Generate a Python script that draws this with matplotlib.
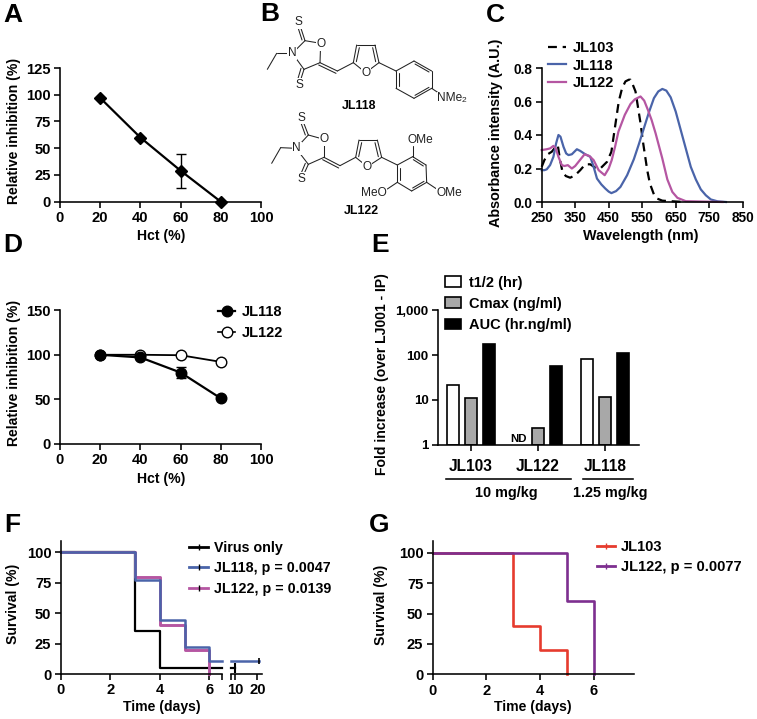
import numpy as np
import matplotlib
matplotlib.use('Agg')
import matplotlib.pyplot as plt
from matplotlib.lines import Line2D
from matplotlib.patches import Patch

plt.rcParams['font.family'] = ['Liberation Sans', 'DejaVu Sans']
plt.rcParams['font.weight'] = 'bold'
plt.rcParams['axes.labelweight'] = 'bold'
plt.rcParams['axes.linewidth'] = 1.15

W, H = 757, 719

# panel A
hct = [20, 40, 60, 80]
a_inhibition = [97, 60, 29, 0]
a_err = [0, 0, 16, 0]

# panel C
wl_118 = [250, 258, 265, 275, 285, 293, 300, 306, 315, 323, 330, 340, 355, 365, 380, 395, 405, 415, 428, 440, 450, 458, 472, 485, 505, 525, 540, 555, 570, 585, 598, 610, 622, 635, 650, 665, 680, 695, 710, 725, 740, 755, 775, 800]
abs_118 = [0.19, 0.19, 0.195, 0.22, 0.27, 0.35, 0.40, 0.39, 0.33, 0.29, 0.28, 0.285, 0.315, 0.305, 0.285, 0.27, 0.21, 0.14, 0.105, 0.08, 0.062, 0.053, 0.065, 0.09, 0.16, 0.255, 0.345, 0.44, 0.535, 0.62, 0.66, 0.675, 0.665, 0.625, 0.54, 0.43, 0.32, 0.21, 0.135, 0.075, 0.04, 0.015, 0.004, 0.0]
wl_122 = [250, 265, 275, 285, 292, 300, 310, 318, 328, 340, 350, 362, 378, 392, 405, 420, 438, 450, 459, 469, 479, 498, 515, 528, 545, 556, 567, 578, 590, 610, 625, 640, 655, 680, 720, 790]
abs_122 = [0.31, 0.315, 0.32, 0.335, 0.32, 0.27, 0.22, 0.215, 0.22, 0.2, 0.215, 0.245, 0.285, 0.275, 0.25, 0.19, 0.16, 0.2, 0.25, 0.33, 0.42, 0.52, 0.585, 0.613, 0.63, 0.605, 0.55, 0.49, 0.41, 0.26, 0.135, 0.06, 0.025, 0.005, 0.003, 0.0]
wl_103 = [250, 258, 268, 280, 290, 298, 304, 312, 322, 335, 350, 365, 380, 395, 410, 425, 445, 458, 469, 480, 490, 500, 510, 515, 522, 530, 545, 553, 565, 573, 585, 595, 610, 650, 680]
abs_103 = [0.21, 0.25, 0.285, 0.3, 0.325, 0.34, 0.26, 0.18, 0.155, 0.145, 0.16, 0.19, 0.225, 0.225, 0.205, 0.2, 0.24, 0.30, 0.45, 0.60, 0.68, 0.72, 0.73, 0.73, 0.70, 0.66, 0.47, 0.35, 0.19, 0.11, 0.045, 0.02, 0.008, 0.003, 0.0]

# panel D
d_118 = [100, 97, 80, 51]
d_118_err = [0, 2, 6, 0]
d_122 = [100, 100, 99.5, 92]

# panel E
e_groups = ['JL103', 'JL122', 'JL118']
e_series = ['t1/2 (hr)', 'Cmax (ng/ml)', 'AUC (hr.ng/ml)']
e_t12 = np.array([21, np.nan, 82])
e_cmax = np.array([11, 2.4, 11.5])
e_auc = np.array([180, 56, 110])

# panel F
f_labels = ['Virus only', 'JL118, p = 0.0047', 'JL122, p = 0.0139']
f_days_virus = [0, 3, 4, 6.5, np.nan, 8.2, 10]
f_virus = [100, 35, 5, 5, np.nan, 5, 5]
f_days_118 = [0, 3, 4, 5, 6, 6.5, np.nan, 8.2, 21]
f_118 = [100, 77.5, 44.5, 22, 11, 11, np.nan, 11, 11]
f_days_122 = [0, 3, 4, 5, 6]
f_122 = [100, 80, 40, 20, 0]

# panel G
g_labels = ['JL103', 'JL122, p = 0.0077']
g_days_103 = [0, 3, 4, 5]
g_103 = [100, 40, 20, 0]
g_days_122 = [0, 5, 6]
g_122 = [100, 60, 0]

BLUE = '#4a64a9'
MAGENTA = '#b556a2'
RED = '#e63b2e'
PURPLE = '#7d2f8f'
GREY = '#a8a8a8'
TICK_FS = 10.6


def axes_px(left, right, top, bottom):
    return fig.add_axes([left / W, 1 - bottom / H, (right - left) / W, (bottom - top) / H])


def style(ax, xlabel, ylabel, xpos, ypos, fs=TICK_FS, label_fs=10.1):
    ax.spines['top'].set_visible(False)
    ax.spines['right'].set_visible(False)
    ax.tick_params(length=4.3, width=1.15, labelsize=fs, pad=2.5)
    ax.set_xlabel(xlabel, fontsize=label_fs, va='center')
    ax.set_ylabel(ylabel, fontsize=label_fs, va='center')
    ax.xaxis.set_label_coords(xpos[0], xpos[1], transform=bg.transData)
    ax.yaxis.set_label_coords(ypos[0], ypos[1], transform=bg.transData)
    ax.patch.set_alpha(0)


def legend_px(ax, handles, labels, left, top, handle_px, gap_px, row_gap_px, fs=10.5):
    em = fs * 100 / 72
    return ax.legend(handles, labels, loc='upper left', bbox_to_anchor=(left / W, 1 - top / H),
                     bbox_transform=fig.transFigure, frameon=False, fontsize=fs, borderpad=0,
                     borderaxespad=0, handlelength=handle_px / em, handletextpad=gap_px / em,
                     labelspacing=row_gap_px / em, handleheight=0.7)


fig = plt.figure(figsize=(W / 100, H / 100), dpi=100)

bg = fig.add_axes([0, 0, 1, 1])
bg.set_xlim(0, W)
bg.set_ylim(H, 0)
bg.axis('off')

for letter, lx, ly in [('A', 13, 15), ('B', 270, 14), ('C', 495, 15), ('D', 13, 245),
                       ('E', 380, 245), ('F', 12, 525), ('G', 379, 525)]:
    bg.text(lx, ly, letter, fontsize=19, ha='center', va='center')


# panel B, structures (crop coordinates, 3x)
def draw_structure(ox, oy, bonds, atoms):
    conv = lambda p: (ox + p[0] / 3, oy + p[1] / 3)
    for a, b in bonds:
        pa, pb = conv(a), conv(b)
        bg.plot([pa[0], pb[0]], [pa[1], pb[1]], color='#222222', lw=0.75, zorder=2,
                solid_capstyle='round')
    for txt, x, y in atoms:
        px, py = conv((x, y))
        bg.text(px, py, txt, fontsize=8.6, fontweight='normal', ha='center', va='center', zorder=3,
                color='#222222', bbox=dict(fc='white', ec='none', pad=0.4))


ring_118 = [(97, 130), (135, 92), (182, 100), (180, 158), (132, 178)]
bonds_118 = [((22, 178), (50, 130)), ((50, 130), (97, 130)),
             (ring_118[0], ring_118[1]), (ring_118[1], ring_118[2]), (ring_118[2], ring_118[3]),
             (ring_118[3], ring_118[4]), (ring_118[4], ring_118[0]),
             ((135, 92), (117, 37)), ((132, 178), (117, 225)),
             ((180, 158), (232, 183)), ((232, 183), (280, 158)),
             ((280, 158), (290, 105)), ((290, 105), (345, 105)), ((345, 105), (357, 158)),
             ((357, 158), (317, 188)), ((317, 188), (280, 158)), ((357, 158), (408, 183)),
             ((408, 183), (462, 153)), ((462, 153), (515, 183)), ((515, 183), (515, 235)),
             ((515, 235), (462, 265)), ((462, 265), (408, 235)), ((408, 235), (408, 183)),
             ((515, 235), (545, 255)),
             ((126, 90), (110, 40)), ((123, 175), (109, 222)), ((176, 165), (228, 190)),
             ((289, 155), (298, 113)), ((338, 113), (347, 155)),
             ((416, 190), (416, 228)), ((465, 162), (507, 186)), ((465, 256), (507, 232))]
atoms_118 = [('S', 115, 37), ('S', 117, 225), ('N', 97, 130), ('O', 183, 102), ('O', 317, 188)]
draw_structure(260, 10, bonds_118, atoms_118)
bg.text(449.5, 98, 'NMe', fontsize=8.6, fontweight='normal', ha='center', va='center', color='#222222',
        bbox=dict(fc='white', ec='none', pad=0.3), zorder=3)
bg.text(464, 100.5, '2', fontsize=6, fontweight='normal', ha='center', va='center', color='#222222')
bg.text(359, 106, 'JL118', fontsize=8.9, ha='center', va='center')

ring_122 = [(108, 130), (145, 90), (192, 103), (192, 157), (145, 178)]
bonds_122 = [((35, 175), (62, 128)), ((62, 128), (108, 130)),
             (ring_122[0], ring_122[1]), (ring_122[1], ring_122[2]), (ring_122[2], ring_122[3]),
             (ring_122[3], ring_122[4]), (ring_122[4], ring_122[0]),
             ((145, 90), (125, 38)), ((145, 178), (125, 222)),
             ((192, 157), (240, 182)), ((240, 182), (287, 157)),
             ((287, 157), (297, 105)), ((297, 105), (352, 105)), ((352, 105), (365, 157)),
             ((365, 157), (322, 185)), ((322, 185), (287, 157)), ((365, 157), (412, 180)),
             ((412, 180), (458, 155)), ((458, 155), (498, 180)), ((498, 180), (500, 232)),
             ((500, 232), (455, 258)), ((455, 258), (412, 232)), ((412, 232), (412, 180)),
             ((458, 155), (458, 122)), ((412, 232), (382, 252)), ((500, 232), (530, 252)),
             ((136, 90), (118, 40)), ((136, 175), (117, 220)), ((188, 164), (236, 189)),
             ((296, 155), (305, 113)), ((345, 113), (355, 155)),
             ((420, 188), (420, 226)), ((460, 164), (490, 183)), ((458, 249), (492, 229))]
atoms_122 = [('S', 125, 38), ('S', 125, 222), ('N', 110, 130), ('O', 193, 103), ('O', 322, 185)]
draw_structure(260, 105, bonds_122, atoms_122)
for txt, x, y in [('OMe', 420, 140), ('MeO', 373.5, 192.5), ('OMe', 449.5, 192.5)]:
    bg.text(x, y, txt, fontsize=8.6, fontweight='normal', ha='center', va='center', color='#222222',
            bbox=dict(fc='white', ec='none', pad=0.3), zorder=3)
bg.text(361, 211, 'JL122', fontsize=8.9, ha='center', va='center')

# panel A
ax = axes_px(60, 261, 68, 201.7)
ax.errorbar(hct, a_inhibition, yerr=a_err, color='black', lw=1.6, elinewidth=1, capsize=3.8,
            capthick=1, marker='D', ms=6.2, clip_on=False, zorder=3)
ax.set_xlim(0, 100)
ax.set_ylim(0, 125)
ax.set_xticks(range(0, 101, 20))
ax.set_yticks(range(0, 126, 25))
style(ax, 'Hct (%)', 'Relative inhibition (%)', (161, 236), (14, 131))

# panel C
ax = axes_px(541.7, 742.7, 68, 202)
l3, = ax.plot(wl_103, abs_103, color='black', lw=1.6, ls=(0, (4, 2.6)), clip_on=False)
l1, = ax.plot(wl_118, abs_118, color=BLUE, lw=1.6, clip_on=False)
l2, = ax.plot(wl_122, abs_122, color=MAGENTA, lw=1.6, clip_on=False)
ax.set_xlim(250, 850)
ax.set_ylim(0, 0.8)
ax.set_xticks(range(250, 851, 100))
ax.set_yticks([0, 0.2, 0.4, 0.6, 0.8])
ax.set_yticklabels(['0.0', '0.2', '0.4', '0.6', '0.8'])
style(ax, 'Wavelength (nm)', 'Absorbance intensity (A.U.)', (641, 236), (496, 133), fs=9.9, label_fs=10.4)
legend_px(ax, [l3, l1, l2], ['JL103', 'JL118', 'JL122'], 548, 41, 18, 7, 3.5)

# panel D
ax = axes_px(60, 261, 310.3, 443.7)
ax.errorbar(hct, d_118, yerr=d_118_err, color='black', lw=1.6, elinewidth=1, capsize=3.8,
            capthick=1, marker='o', ms=7.6, clip_on=False, zorder=3)
ax.plot(hct, d_122, color='black', lw=1.3, marker='o', ms=7.6, mfc='white', mew=1,
        clip_on=False, zorder=2)
ax.set_xlim(0, 100)
ax.set_ylim(0, 150)
ax.set_xticks(range(0, 101, 20))
ax.set_yticks([0, 50, 100, 150])
style(ax, 'Hct (%)', 'Relative inhibition (%)', (161, 479), (14, 373))
h1 = Line2D([], [], color='black', lw=1.6, marker='o', ms=7.6)
h2 = Line2D([], [], color='black', lw=1.2, marker='o', ms=7.6, mfc='white', mew=1)
legend_px(ax, [h1, h2], ['JL118', 'JL122'], 218, 305, 17, 6.5, 7)

# panel E
ax = axes_px(438, 639, 310.3, 444.7)
centers = np.arange(len(e_groups))
offset = 0.27
bw = 0.185
ax.bar(centers - offset, e_t12 - 1, bw, bottom=1, color='white', edgecolor='black', lw=1.2)
ax.bar(centers, e_cmax - 1, bw, bottom=1, color=GREY, edgecolor='black', lw=1.2)
ax.bar(centers + offset, e_auc - 1, bw, bottom=1, color='black', edgecolor='black', lw=1.2)
ax.set_yscale('log')
ax.set_ylim(1, 1000)
ax.set_xlim(-0.49, 2.505)
ax.set_xticks(centers)
ax.set_xticklabels(e_groups)
ax.set_yticks([1, 10, 100, 1000])
ax.set_yticklabels(['1', '10', '100', '1,000'])
ax.minorticks_off()
style(ax, '', 'Fold increase (over LJ001 - IP)', (500, 500), (382, 374), fs=9.5)
ax.tick_params(axis='x', labelsize=11.2, pad=6)
ax.text(1 - offset - 0.02, 1.32, 'ND', fontsize=8.2, ha='center', va='center')
hs = [Patch(fc='white', ec='black', lw=1.2), Patch(fc=GREY, ec='black', lw=1.2), Patch(fc='black', ec='black', lw=1.2)]
legend_px(ax, hs, e_series, 445, 275.5, 16, 8, 7.2)
bg.plot([446, 570.7], [478.7, 478.7], color='black', lw=1.15)
bg.plot([582.7, 632.7], [478.7, 478.7], color='black', lw=1.15)
bg.text(506.7, 493.5, '10 mg/kg', fontsize=10.4, ha='center', va='center')
bg.text(610, 493.5, '1.25 mg/kg', fontsize=10.4, ha='center', va='center')

# panel F, broken time axis
day_pts = [0, 6.5, 8.2, 22]
pos_pts = [0, 161, 170.3, 201]
ax = axes_px(60.7, 261.7, 540.7, 674)
ax.set_xscale('function', functions=(lambda d: np.interp(d, day_pts, pos_pts),
                                     lambda p: np.interp(p, pos_pts, day_pts)))
ax.step(f_days_virus, f_virus, where='post', color='black', lw=1.6, clip_on=False)
ax.step(f_days_122, f_122, where='post', color=MAGENTA, lw=2.1, clip_on=False)
ax.step(f_days_118, f_118, where='post', color=BLUE, lw=1.8, clip_on=False)
ax.plot(10, 5, marker='|', ms=7, mew=1.5, color='black', clip_on=False)
ax.plot(21, 11, marker='|', ms=4, mew=1.2, color='black', clip_on=False)
ax.set_xlim(0, 22)
ax.set_ylim(0, 109.5)
ax.set_xticks([0, 2, 4, 6, 10, 20])
ax.set_xticks([6.5, 8.2], minor=True)
ax.set_yticks([0, 25, 50, 75, 100])
style(ax, 'Time (days)', 'Survival (%)', (161.5, 707), (13.5, 604))
ax.tick_params(axis='x', which='minor', length=4.3, width=1.15)
ax.spines['bottom'].set_visible(False)
ax.plot([0, 6.5], [0, 0], color='black', lw=1.15, clip_on=False, zorder=5)
ax.plot([8.2, 22], [0, 0], color='black', lw=1.15, clip_on=False, zorder=5)
hs = [Line2D([], [], color=c, lw=2, marker='|', ms=4, mec='black', mew=1) for c in ['black', BLUE, MAGENTA]]
legend_px(ax, hs, f_labels, 189, 541, 19, 6, 6.3, fs=10.3)

# panel G
ax = axes_px(432.7, 634, 540.7, 674.3)
ax.step(g_days_103, g_103, where='post', color=RED, lw=1.9, clip_on=False)
ax.step(g_days_122, g_122, where='post', color=PURPLE, lw=1.9, clip_on=False)
ax.set_xlim(0, 7.5)
ax.set_ylim(0, 109.9)
ax.set_xticks([0, 2, 4, 6])
ax.set_yticks([0, 25, 50, 75, 100])
style(ax, 'Time (days)', 'Survival (%)', (533, 707), (381, 605))
hs = [Line2D([], [], color=RED, lw=2, marker='|', ms=5, mew=1),
      Line2D([], [], color=PURPLE, lw=2, marker='|', ms=5, mew=1)]
legend_px(ax, hs, g_labels, 597, 540, 17.5, 6.5, 6.5)

fig.savefig('out.png', dpi=100)
